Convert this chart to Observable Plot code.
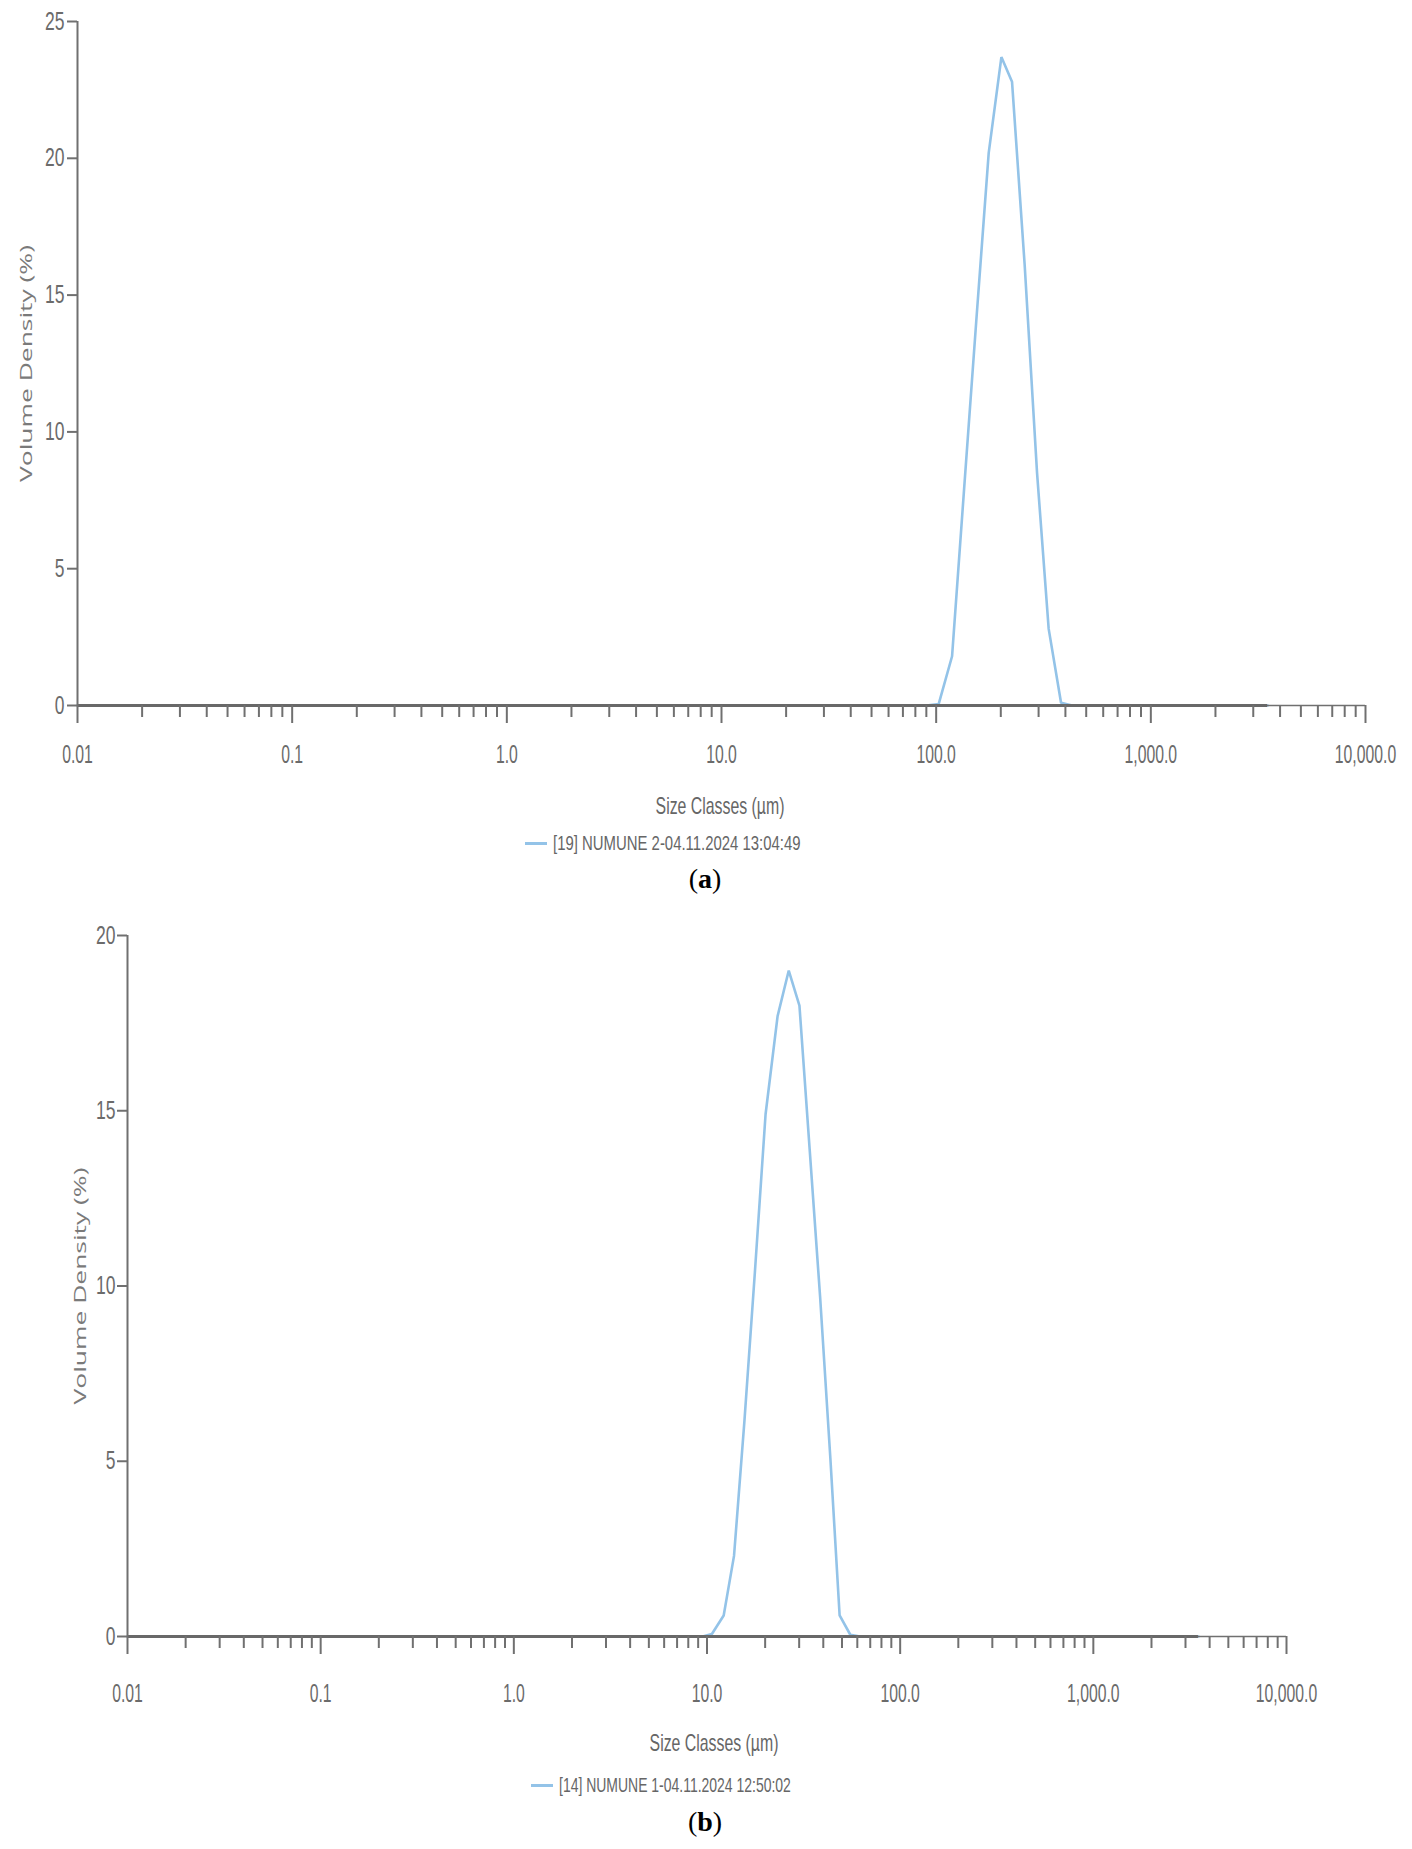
<!DOCTYPE html>
<html>
<head>
<meta charset="utf-8">
<script src="https://cdn.jsdelivr.net/npm/d3@7"></script>
<script src="https://cdn.jsdelivr.net/npm/@observablehq/plot@0.6"></script>
<style>
  body { margin: 0; background: #fff; }
  #page { position: relative; width: 1412px; height: 1849px; background: #fff; overflow: hidden;
          font-family: "Liberation Sans", Arial, sans-serif; }
  .abs { position: absolute; white-space: nowrap; }
  .xtitle { font-size: 24px; color: #666; transform: translate(-50%, -50%) scaleX(0.66); }
  .legend { transform: translateY(-50%); display: flex; align-items: center; }
  .legend .sw { display: inline-block; width: 22px; height: 3px; background: #93c3e8; margin-right: 6px; }
  .legend .lt { display: inline-block; font-size: 21px; color: #666; transform-origin: left center; }
  .cap { font-family: "Liberation Serif", "Times New Roman", serif; font-size: 28px; color: #000;
         transform: translate(-50%, -50%); }
  .cap b { font-weight: bold; }
  svg { position: absolute; left: 0; }
</style>
</head>
<body>
<div id="page"></div>
<script>
// ---------- data ----------
// (a) sample [19] NUMUNE 2
const sizesA = [0.01, 90.0, 102.7, 118.6, 134.9, 153.9, 175.7, 201.3, 225.6, 258.4, 295.1, 334.3, 381.7, 430.0, 3500];
const volA   = [0,    0,    0.05,  1.8,   7.9,   14.1,  20.2,  23.7,  22.8,  16.1,  8.5,   2.8,   0.1,   0,     0];
// (b) sample [14] NUMUNE 1
const sizesB = [0.01, 9.5, 10.6, 12.2, 13.8, 15.6, 17.7, 20.1, 23.2, 26.5, 30.1, 34.0, 38.5, 43.5, 48.6, 55.2, 62.0, 3500];
const volB   = [0,    0,   0.07, 0.6,  2.3,  6.1,  10.4, 14.9, 17.7, 19.0, 18.0, 13.9, 9.7,  5.1,  0.6,  0.05, 0,    0];

const yTicksA = [0, 5, 10, 15, 20, 25];
const yTicksB = [0, 5, 10, 15, 20];
const xMajor = [0.01, 0.1, 1, 10, 100, 1000, 10000];
const xMajorLabels = ["0.01", "0.1", "1.0", "10.0", "100.0", "1,000.0", "10,000.0"];
const minorMultipliers = [2, 3, 4, 5, 6, 7, 8, 9];
const xTitle = "Size Classes (µm)";
const yTitle = "Volume Density (%)";
const legendA = "[19] NUMUNE 2-04.11.2024 13:04:49";
const legendB = "[14] NUMUNE 1-04.11.2024 12:50:02";
const captionA = "a";
const captionB = "b";

// ---------- helpers ----------
const lineColor = "#93c3e8";
const axisColor = "#707070";
const xMinor = xMajor.slice(0, -1).flatMap(d => minorMultipliers.map(m => +(d * m).toPrecision(3)));

function makeChart(sizes, vols, yTicks, cfg) {
  const data = sizes.map((s, i) => ({size: s, vol: vols[i]}));
  const yMax = yTicks[yTicks.length - 1];
  return Plot.plot({
    width: 1412,
    height: cfg.height,
    marginTop: cfg.marginTop,
    marginLeft: cfg.marginLeft,
    marginRight: cfg.marginRight,
    marginBottom: cfg.marginBottom,
    x: {type: "log", domain: [xMajor[0], xMajor[xMajor.length - 1]]},
    y: {domain: [0, yMax]},
    style: {fontFamily: "Liberation Sans, Arial, sans-serif", fontSize: "25px", color: "#6b6b6b", background: "transparent"},
    marks: [
      Plot.line(data, {x: "size", y: "vol", stroke: lineColor, strokeWidth: 2.6, strokeLinejoin: "miter"}),
      Plot.ruleY([0], {stroke: axisColor, strokeWidth: 1.6}),
      Plot.ruleY([0], {x1: sizes[0], x2: sizes[sizes.length - 1], stroke: "#686868", strokeWidth: 3}),
      Plot.ruleX([xMajor[0]], {y1: 0, y2: yMax, stroke: axisColor, strokeWidth: 2}),
      Plot.axisY({ticks: yTicks, tickSize: cfg.yTickSize, tickPadding: cfg.yTickPadding, stroke: axisColor, strokeWidth: 2,
                  label: yTitle, labelAnchor: "center", labelOffset: cfg.labelOffset, labelArrow: "none"}),
      Plot.axisX({ticks: xMajor, tickSize: 18, tickPadding: cfg.xTickPadding, stroke: axisColor, strokeWidth: 2,
                  tickFormat: d => xMajorLabels[xMajor.indexOf(d)], label: null}),
      Plot.axisX({ticks: xMinor, tickSize: 12, stroke: axisColor, strokeWidth: 2, tickFormat: () => "", label: null})
    ]
  });
}

// measure in the base font, then switch to a narrow face and fit to the squeezed length
function squeeze(svg, selector, f, narrow) {
  svg.querySelectorAll(selector).forEach(t => {
    const L = t.getComputedTextLength();
    if (L > 0) {
      if (narrow) t.setAttribute("font-family", "Liberation Sans Narrow, Liberation Sans, Arial, sans-serif");
      t.setAttribute("textLength", (L * f).toFixed(1));
      t.setAttribute("lengthAdjust", "spacingAndGlyphs");
    }
  });
}

function place(svg, top) {
  svg.style.top = top + "px";
  page.appendChild(svg);
  squeeze(svg, 'g[aria-label="x-axis tick label"] text', 0.63, true);
  squeeze(svg, 'g[aria-label="y-axis tick label"] text', 0.7, true);
  const yl = svg.querySelector('g[aria-label="y-axis label"] text');
  if (yl) {
    yl.setAttribute("font-family", "Open Sans, Noto Sans, sans-serif");
    yl.setAttribute("font-size", "16");
    yl.setAttribute("fill", "#7a7a7a");
    squeeze(svg, 'g[aria-label="y-axis label"] text', 1.65, false);
  }
}

function addHTML(cls, left, top, html) {
  const d = document.createElement("div");
  d.className = "abs " + cls;
  d.style.left = left + "px";
  d.style.top = top + "px";
  d.innerHTML = html;
  page.appendChild(d);
  return d;
}

function addLegend(left, top, text, scale) {
  const d = addHTML("legend", left, top, "");
  const sw = document.createElement("span"); sw.className = "sw";
  const lt = document.createElement("span"); lt.className = "lt"; lt.textContent = text;
  lt.style.transform = `scaleX(${scale})`;
  d.appendChild(sw); d.appendChild(lt);
}

const page = document.getElementById("page");

// ---------- chart (a) ----------
const svgA = makeChart(sizesA, volA, yTicksA, {
  height: 780, marginTop: 21, marginLeft: 77, marginRight: 47, marginBottom: 75,
  yTickSize: 10, yTickPadding: 3, xTickPadding: 22, labelOffset: 57
});
place(svgA, 0);
addHTML("xtitle", 720, 806, xTitle);
addLegend(525, 843, legendA, 0.71);
addHTML("cap", 705, 879, `(<b>${captionA}</b>)`);

// ---------- chart (b) ----------
const svgB = makeChart(sizesB, volB, yTicksB, {
  height: 811, marginTop: 35, marginLeft: 127, marginRight: 126, marginBottom: 75,
  yTickSize: 10, yTickPadding: 2, xTickPadding: 30, labelOffset: 53
});
place(svgB, 900);
addHTML("xtitle", 714, 1743, xTitle);
addLegend(531, 1785, legendB, 0.665);
addHTML("cap", 705, 1822, `(<b>${captionB}</b>)`);
</script>
</body>
</html>
